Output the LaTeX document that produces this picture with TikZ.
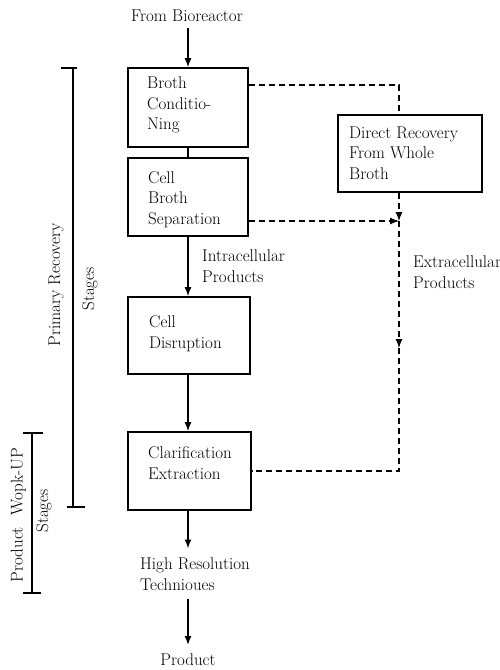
\documentclass[tikz,border=0pt]{standalone}
\usetikzlibrary{arrows.meta}
\begin{document}
\begin{tikzpicture}[x=1pt,y=-1pt,
  txt/.style={font=\fontsize{17}{20.5}\selectfont, align=left, inner sep=0pt},
  box/.style={draw, line width=1.6pt, inner sep=0pt},
  ln/.style={line width=1.4pt},
  arr/.style={line width=1.4pt, -{Latex[length=9pt,width=7pt]}},
  dsh/.style={line width=1.1pt, dash pattern=on 6pt off 4pt},
  darr/.style={dsh, -{Latex[length=9pt,width=7pt]}},
  brk/.style={line width=1.6pt}
]
\useasboundingbox (0,0) rectangle (500,670);

% boxes
\node[box, minimum width=120pt, minimum height=79pt] (b1) at (188,107.5) {};
\node[box, minimum width=120pt, minimum height=78pt] (b2) at (188,197) {};
\node[box, minimum width=122pt, minimum height=77pt] (b3) at (189,335.5) {};
\node[box, minimum width=123pt, minimum height=78pt] (b4) at (189.5,471) {};
\node[box, minimum width=144pt, minimum height=77pt] (dr) at (410,153.5) {};

% box texts (anchor at baseline of last line)
\node[txt, anchor=base west] (t1) at (147,129.5) {Broth\\Conditio-\\Ning};
\node[txt, anchor=base west] (t2) at (148,224) {Cell\\Broth\\Separation};
\node[txt, anchor=base west] (t3) at (149,348) {Cell\\Disruption};
\node[txt, anchor=base west] (t4) at (148,479) {Clarification\\Extraction};
\node[txt, anchor=base west] (tdr) at (349,179) {Direct Recovery\\From Whole\\Broth};

% free texts
\node[txt, anchor=base, inner ysep=7pt] (src) at (187,21) {From Bioreactor};
\node[txt, anchor=base west, inner ysep=9pt] (hr) at (140,590) {High Resolution\\Technioues};
\node[txt, anchor=base, inner ysep=8pt] (prod) at (188,665) {Product};
\node[txt, anchor=base west] (intra) at (202,282) {Intracellular\\Products};
\node[txt, anchor=base west] (extra) at (413,288) {Extracellular\\Products};

% side labels
\node[txt, rotate=90] (pr) at (56,285) {Primary Recovery};
\node[txt, rotate=90] (prs) at (90,289) {Stages};
\node[txt, rotate=90] (pw) at (18.5,515) {Product\hspace{12pt}Wopk-UP};
\node[txt, rotate=90] (pws) at (44,511) {Stages};

% brackets
\coordinate (pt) at (73,68);
\coordinate (pb) at (73,507);
\draw[brk] (61,68) -- (77,68);
\draw[brk] (pt) -- (pb);
\draw[brk] (67,507) -- (85,507);
\coordinate (wt) at (32,433);
\coordinate (wb) at (32,593);
\draw[brk] (23,433) -- (43,433);
\draw[brk] (wt) -- (wb);
\draw[brk] (23,593) -- (41,593);

% main flow
\draw[arr] (b1.north |- src.south) -- (b1.north);
\draw[ln] (b1.south) -- (b2.north);
\draw[arr] (b2.south) -- (b2.south |- b3.north);
\draw[arr] (b2.south |- b3.south) -- (b2.south |- b4.north);
\draw[arr] (b2.south |- b4.south) -- (b2.south |- hr.north);
\draw[arr] (b2.south |- hr.south) -- (b2.south |- prod.north);

% dashed paths
\coordinate (j) at (399,221);
\coordinate (k) at (399,348);
\draw[dsh] ([yshift=22.5pt]b1.east) -| (j |- dr.north);
\draw[darr] (j |- dr.south) -- (j);
\draw[darr] (b2.east |- j) -- (j);
\draw[darr] (j) -- (k);
\draw[dsh] (k) |- (b4.east);
\end{tikzpicture}
\end{document}
